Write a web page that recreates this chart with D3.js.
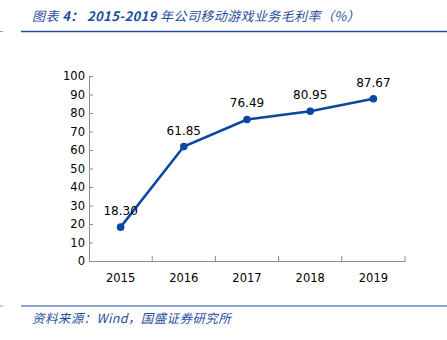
<!DOCTYPE html>
<html><head><meta charset="utf-8">
<script src="https://cdn.jsdelivr.net/npm/d3@7"></script>
<style>
body{margin:0;background:#fff;}
svg{display:block;}
</style></head>
<body>
<script>
const years = ["2015","2016","2017","2018","2019"];
const margins = [18.30, 61.85, 76.49, 80.95, 87.67];
const yTicks = [0,10,20,30,40,50,60,70,80,90,100];
const titleParts = [["图表 ", "normal"], ["4： 2015-2019 ", "bold"], ["年公司移动游戏业务毛利率（%）", "normal"]];
const source = "资料来源：Wind，国盛证券研究所";

const W = 447, H = 340;
const svg = d3.select("body").append("svg").attr("width", W).attr("height", H);
const blue = "#1f4e9e";
const lineBlue = "#0a479f";

// header
const t = svg.append("text").attr("x", 32).attr("y", 21)
  .attr("font-family", "'Noto Sans CJK SC', 'Liberation Sans', sans-serif")
  .attr("font-size", 13).attr("font-style", "italic").attr("letter-spacing", 0.4)
  .attr("fill", blue);
t.selectAll("tspan").data(titleParts).join("tspan")
  .attr("font-weight", d => d[1]).text(d => d[0]);
svg.append("line").attr("x1", 21).attr("x2", 447).attr("y1", 31.5).attr("y2", 31.5)
  .attr("stroke", blue).attr("stroke-width", 1.5);
svg.append("line").attr("x1", 0).attr("x2", 3).attr("y1", 31.5).attr("y2", 31.5)
  .attr("stroke", "#8aa0c8").attr("stroke-width", 1);

// footer
svg.append("line").attr("x1", 21).attr("x2", 447).attr("y1", 306).attr("y2", 306)
  .attr("stroke", blue).attr("stroke-width", 1.2);
svg.append("line").attr("x1", 0).attr("x2", 3).attr("y1", 306).attr("y2", 306)
  .attr("stroke", "#8aa0c8").attr("stroke-width", 1);
svg.append("text").attr("x", 32).attr("y", 323)
  .attr("font-family", "'Noto Sans CJK SC', 'Liberation Sans', sans-serif")
  .attr("font-size", 12.5).attr("font-style", "italic").attr("letter-spacing", 0.4)
  .attr("fill", blue).text(source);

// scales
const x = d3.scaleBand().domain(years).range([89, 405]);
const y = d3.scaleLinear().domain([0, 100]).range([261, 76]);

const axisColor = "#8c8c8c";
const fontF = "'DejaVu Sans', Verdana, sans-serif";

// y axis
const gy = svg.append("g").attr("transform", "translate(89,0)")
  .call(d3.axisLeft(y).tickValues(yTicks).tickSizeInner(-4).tickSizeOuter(0).tickPadding(4));
gy.select(".domain").attr("stroke", axisColor);
gy.selectAll(".tick line").attr("stroke", axisColor);
gy.selectAll(".tick text").attr("font-family", fontF).attr("font-size", 11.5).attr("fill", "#000");

// x axis
const gx = svg.append("g").attr("transform", "translate(0,261)")
  .call(d3.axisBottom(x).tickSize(0).tickPadding(13));
gx.select(".domain").attr("stroke", axisColor);
gx.selectAll(".tick text").attr("font-family", fontF).attr("font-size", 11.5).attr("fill", "#000");
// category separators
const seps = years.map(d => x(d) + x.bandwidth());
svg.append("g").selectAll("line").data(seps).join("line")
  .attr("x1", d => d).attr("x2", d => d).attr("y1", 261).attr("y2", 256)
  .attr("stroke", axisColor);

// line
const cx = d => x(d) + x.bandwidth() / 2;
const data = years.map((d, i) => ({year: d, v: margins[i]}));
svg.append("path").datum(data)
  .attr("fill", "none").attr("stroke", lineBlue).attr("stroke-width", 2.5)
  .attr("d", d3.line().x(d => cx(d.year)).y(d => y(d.v)));
svg.append("g").selectAll("circle").data(data).join("circle")
  .attr("cx", d => cx(d.year)).attr("cy", d => y(d.v)).attr("r", 3.8)
  .attr("fill", lineBlue);
svg.append("g").selectAll("text").data(data).join("text")
  .attr("x", d => cx(d.year)).attr("y", d => y(d.v) - 12)
  .attr("text-anchor", "middle")
  .attr("font-family", fontF).attr("font-size", 12).attr("fill", "#000")
  .text(d => d.v.toFixed(2));
</script>
</body></html>
